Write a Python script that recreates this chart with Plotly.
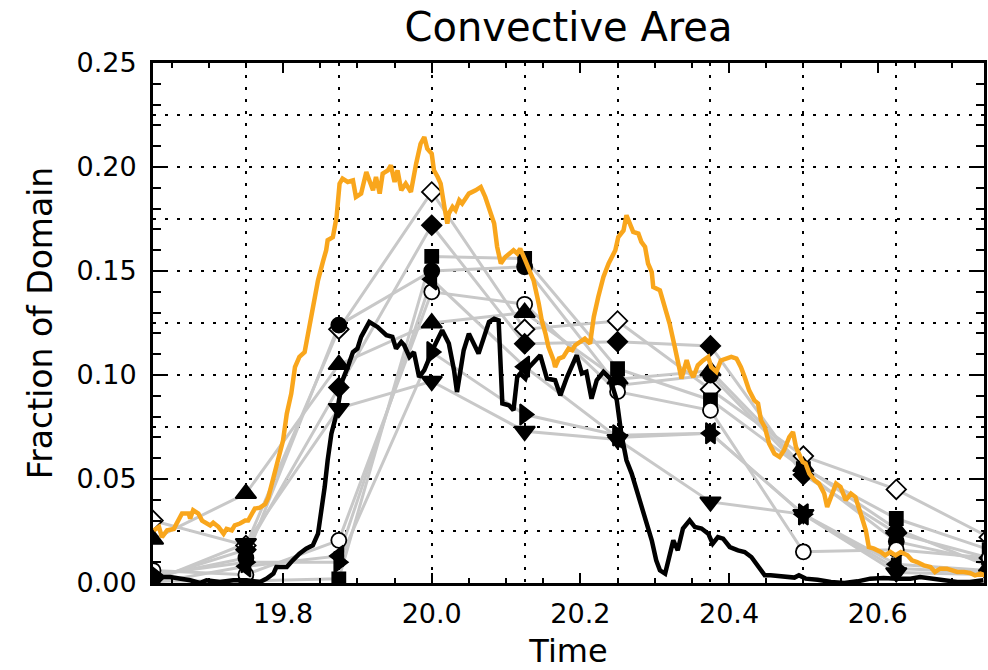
import plotly.graph_objects as go

# ---- ensemble members, sampled every 7.5 minutes ----
member_times = [19.625, 19.75, 19.875, 20.0, 20.125, 20.25, 20.375, 20.5, 20.625, 20.75]

member_open_diamond = [0.030, 0.018, 0.122, 0.188, 0.122, 0.126, 0.093, 0.061, 0.045, 0.022]
member_diamond      = [0.002, 0.016, 0.094, 0.172, 0.115, 0.116, 0.114, 0.052, 0.024, 0.012]
member_square       = [0.001, 0.001, 0.002, 0.157, 0.156, 0.103, 0.088, 0.055, 0.031, 0.016]
member_circle       = [0.003, 0.012, 0.124, 0.150, 0.152, 0.095, 0.100, 0.054, 0.020, 0.010]
member_open_circle  = [0.006, 0.004, 0.0205, 0.140, 0.134, 0.092, 0.083, 0.015, 0.016, 0.012]
member_tri_up       = [0.021, 0.043, 0.105, 0.125, 0.130, 0.098, 0.102, 0.056, 0.026, 0.008]
member_tri_down     = [0.001, 0.019, 0.084, 0.097, 0.073, 0.069, 0.039, 0.033, 0.005, 0.004]
member_tri_left     = [0.000, 0.008, 0.013, 0.146, 0.104, 0.070, 0.072, 0.033, 0.009, 0.006]
member_tri_right    = [0.004, 0.010, 0.010, 0.111, 0.081, 0.071, 0.072, 0.033, 0.007, 0.005]

# ---- high-resolution series (orange) ----
orange_t = [19.626, 19.633, 19.637, 19.644, 19.653, 19.657, 19.664, 19.673, 19.675, 19.679,
            19.686, 19.691, 19.695, 19.702, 19.706, 19.713, 19.720, 19.724, 19.731, 19.735,
            19.742, 19.749, 19.753, 19.758, 19.762, 19.769, 19.776, 19.780, 19.787, 19.796,
            19.800, 19.805, 19.811, 19.816, 19.822, 19.829, 19.836, 19.840, 19.847, 19.854,
            19.858, 19.860, 19.867, 19.872, 19.876, 19.880, 19.887, 19.894, 19.898, 19.905,
            19.912, 19.916, 19.921, 19.925, 19.930, 19.934, 19.941, 19.945, 19.950, 19.954,
            19.959, 19.965, 19.972, 19.979, 19.985, 19.990, 19.994, 20.000, 20.003, 20.008,
            20.012, 20.017, 20.021, 20.023, 20.028, 20.032, 20.037, 20.041, 20.050, 20.059,
            20.066, 20.072, 20.079, 20.084, 20.088, 20.093, 20.099, 20.104, 20.110, 20.115,
            20.119, 20.126, 20.131, 20.137, 20.144, 20.148, 20.153, 20.157, 20.164, 20.166,
            20.171, 20.177, 20.184, 20.189, 20.193, 20.200, 20.206, 20.213, 20.218, 20.224,
            20.231, 20.238, 20.247, 20.251, 20.258, 20.262, 20.267, 20.271, 20.278, 20.282,
            20.287, 20.291, 20.296, 20.298, 20.307, 20.314, 20.320, 20.327, 20.331, 20.336,
            20.343, 20.347, 20.352, 20.358, 20.365, 20.372, 20.376, 20.383, 20.389, 20.396,
            20.403, 20.410, 20.416, 20.421, 20.427, 20.434, 20.439, 20.443, 20.448, 20.454,
            20.461, 20.468, 20.474, 20.481, 20.486, 20.490, 20.494, 20.499, 20.503, 20.508,
            20.515, 20.521, 20.528, 20.532, 20.537, 20.544, 20.550, 20.557, 20.564, 20.570,
            20.577, 20.584, 20.588, 20.595, 20.604, 20.610, 20.617, 20.624, 20.631, 20.640,
            20.646, 20.653, 20.662, 20.671, 20.677, 20.684, 20.693, 20.700, 20.707, 20.716,
            20.724, 20.731, 20.738, 20.744]
orange_v = [0.0253, 0.0270, 0.0220, 0.0253, 0.0260, 0.0290, 0.0334, 0.0334, 0.0310, 0.0350,
            0.0334, 0.0300, 0.0290, 0.0277, 0.0290, 0.0270, 0.0237, 0.0260, 0.0253, 0.0277,
            0.0286, 0.0300, 0.0300, 0.0334, 0.0358, 0.0362, 0.0380, 0.0410, 0.0510, 0.0620,
            0.0686, 0.0814, 0.0910, 0.1038, 0.1087, 0.1110, 0.1247, 0.1340, 0.1455, 0.1550,
            0.1600, 0.1648, 0.1663, 0.1760, 0.1920, 0.1944, 0.1928, 0.1936, 0.1856, 0.1872,
            0.1976, 0.1936, 0.1888, 0.1952, 0.1872, 0.1968, 0.1984, 0.2008, 0.1928, 0.1984,
            0.1888, 0.1920, 0.1880, 0.2016, 0.2112, 0.2144, 0.2088, 0.2064, 0.1984, 0.1952,
            0.1920, 0.1808, 0.1728, 0.1776, 0.1808, 0.1792, 0.1840, 0.1824, 0.1872, 0.1888,
            0.1904, 0.1856, 0.1776, 0.1728, 0.1616, 0.1536, 0.1567, 0.1584, 0.1600, 0.1584,
            0.1608, 0.1550, 0.1503, 0.1455, 0.1343, 0.1263, 0.1199, 0.1135, 0.1070, 0.1038,
            0.1079, 0.1087, 0.1127, 0.1119, 0.1143, 0.1159, 0.1175, 0.1151, 0.1279, 0.1375,
            0.1471, 0.1536, 0.1600, 0.1663, 0.1695, 0.1768, 0.1720, 0.1688, 0.1680, 0.1640,
            0.1616, 0.1536, 0.1495, 0.1423, 0.1407, 0.1327, 0.1247, 0.1135, 0.1055, 0.0983,
            0.1071, 0.1023, 0.0990, 0.1047, 0.1070, 0.1087, 0.1038, 0.1015, 0.1070, 0.1079,
            0.1087, 0.1079, 0.1038, 0.0990, 0.0926, 0.0878, 0.0863, 0.0782, 0.0750, 0.0670,
            0.0622, 0.0606, 0.0638, 0.0702, 0.0726, 0.0654, 0.0622, 0.0582, 0.0574, 0.0526,
            0.0494, 0.0478, 0.0430, 0.0365, 0.0413, 0.0478, 0.0462, 0.0398, 0.0430, 0.0413,
            0.0334, 0.0253, 0.0173, 0.0165, 0.0149, 0.0133, 0.0149, 0.0133, 0.0149, 0.0133,
            0.0109, 0.0101, 0.0085, 0.0077, 0.0053, 0.0069, 0.0069, 0.0061, 0.0053, 0.0053,
            0.0048, 0.0037, 0.0045, 0.0037]

# ---- high-resolution series (black) ----
black_t = [19.625, 19.635, 19.648, 19.662, 19.675, 19.688, 19.697, 19.715, 19.733, 19.751,
           19.769, 19.778, 19.787, 19.791, 19.805, 19.813, 19.822, 19.831, 19.840, 19.847,
           19.851, 19.856, 19.860, 19.865, 19.872, 19.876, 19.880, 19.887, 19.894, 19.900,
           19.905, 19.916, 19.927, 19.939, 19.947, 19.952, 19.959, 19.963, 19.970, 19.976,
           19.983, 19.990, 19.997, 20.003, 20.014, 20.023, 20.030, 20.034, 20.043, 20.050,
           20.063, 20.070, 20.077, 20.084, 20.090, 20.095, 20.104, 20.110, 20.115, 20.119,
           20.126, 20.131, 20.139, 20.146, 20.155, 20.166, 20.173, 20.182, 20.195, 20.202,
           20.208, 20.215, 20.222, 20.231, 20.240, 20.249, 20.255, 20.262, 20.269, 20.276,
           20.282, 20.289, 20.296, 20.302, 20.307, 20.314, 20.320, 20.325, 20.331, 20.338,
           20.347, 20.354, 20.363, 20.372, 20.378, 20.385, 20.392, 20.401, 20.412, 20.421,
           20.430, 20.439, 20.448, 20.456, 20.474, 20.488, 20.494, 20.503, 20.519, 20.537,
           20.555, 20.573, 20.590, 20.608, 20.626, 20.644, 20.657, 20.671, 20.689, 20.707,
           20.724, 20.742]
black_v = [0.0037, 0.0029, 0.0029, 0.0021, 0.0013, 0.0000, 0.0013, 0.0005, 0.0013, 0.0013,
           0.0005, 0.0021, 0.0045, 0.0077, 0.0077, 0.0109, 0.0141, 0.0165, 0.0181, 0.0237,
           0.0334, 0.0462, 0.0590, 0.0718, 0.0814, 0.0894, 0.0975, 0.1038, 0.1110, 0.1127,
           0.1183, 0.1255, 0.1231, 0.1191, 0.1183, 0.1127, 0.1159, 0.1143, 0.1087, 0.1110,
           0.0990, 0.1023, 0.1087, 0.1135, 0.1215, 0.1151, 0.1023, 0.0918, 0.1119, 0.1199,
           0.1103, 0.1183, 0.1255, 0.1271, 0.1263, 0.0863, 0.0854, 0.0830, 0.0990, 0.1007,
           0.0983, 0.1038, 0.1070, 0.1095, 0.0983, 0.0975, 0.0902, 0.0990, 0.1095, 0.1007,
           0.1015, 0.0886, 0.0975, 0.1015, 0.0983, 0.0878, 0.0718, 0.0590, 0.0526, 0.0446,
           0.0365, 0.0301, 0.0205, 0.0109, 0.0061, 0.0045, 0.0141, 0.0205, 0.0157, 0.0262,
           0.0301, 0.0269, 0.0262, 0.0237, 0.0189, 0.0221, 0.0213, 0.0173, 0.0157, 0.0149,
           0.0125, 0.0077, 0.0037, 0.0037, 0.0032, 0.0026, 0.0037, 0.0021, 0.0016, 0.0005,
           0.0000, 0.0008, 0.0021, 0.0024, 0.0021, 0.0021, 0.0029, 0.0021, 0.0013, 0.0005,
           0.0005, 0.0013]

# ---- axis / grid settings ----
x_range = [19.625, 20.743]
y_range = [0.0, 0.25]
x_grid_start, x_grid_step = 19.75, 0.125
y_grid_step = 0.025

FONT = "DejaVu Sans"
GRAY = "#C8C8C8"
ORANGE = "#F9A61C"

members = [
    (member_open_diamond, "diamond", "white", 15),
    (member_diamond, "diamond", "black", 15),
    (member_square, "square", "black", 13),
    (member_circle, "circle", "black", 15),
    (member_open_circle, "circle", "white", 15),
    (member_tri_up, "triangle-up", "black", 18),
    (member_tri_down, "triangle-down", "black", 18),
    (member_tri_left, "triangle-left", "black", 18),
    (member_tri_right, "triangle-right", "black", 18),
]

fig = go.Figure()

# empty trace that binds the dotted-grid axes so they get drawn
fig.add_trace(go.Scatter(x=[], y=[], xaxis="x2", yaxis="y2", mode="lines",
                         hoverinfo="skip", showlegend=False))

# connecting lines of each member, drawn first so the symbols sit on top
for vals, _, _, _ in members:
    fig.add_trace(go.Scatter(x=member_times, y=vals, mode="lines",
                             line=dict(color=GRAY, width=3),
                             hoverinfo="skip", showlegend=False))

for vals, sym, fill, size in members:
    fig.add_trace(go.Scatter(x=member_times, y=vals, mode="markers",
                             marker=dict(symbol=sym, size=size, color=fill,
                                         line=dict(color="black", width=1.8)),
                             showlegend=False))

fig.add_trace(go.Scatter(x=orange_t, y=orange_v, mode="lines",
                         line=dict(color=ORANGE, width=4.5), showlegend=False))
fig.add_trace(go.Scatter(x=black_t, y=black_v, mode="lines",
                         line=dict(color="black", width=4.5), showlegend=False))

tick_font = dict(family=FONT, size=27, color="black")

fig.update_layout(
    width=988, height=670,
    margin=dict(l=153, r=1, t=63, b=87),
    paper_bgcolor="white", plot_bgcolor="white",
    title=dict(text="Convective Area", x=0.5, xref="paper", xanchor="center",
               y=1 - 26.5 / 670, yref="container", yanchor="middle",
               font=dict(family=FONT, size=40, color="black")),
    xaxis=dict(range=x_range, tick0=19.8, dtick=0.2, tickformat=".1f",
               ticks="inside", ticklen=10, tickwidth=2, tickcolor="black",
               minor=dict(dtick=0.05, ticks="inside", ticklen=5, tickwidth=2, tickcolor="black"),
               showline=True, linewidth=3, linecolor="black", mirror="ticks",
               showgrid=False, zeroline=False, tickfont=tick_font,
               ticklabelstandoff=5,
               title=dict(text="Time", font=dict(family=FONT, size=32, color="black"),
                          standoff=14)),
    yaxis=dict(range=y_range, tick0=0, dtick=0.05, tickformat=".2f",
               ticks="inside", ticklen=15, tickwidth=2, tickcolor="black",
               minor=dict(dtick=0.01, ticks="inside", ticklen=8, tickwidth=2, tickcolor="black"),
               showline=True, linewidth=3, linecolor="black", mirror="ticks",
               showgrid=False, zeroline=False, tickfont=tick_font,
               ticklabelstandoff=8,
               title=dict(text="Fraction of Domain", font=dict(family=FONT, size=33, color="black"),
                          standoff=14)),
    # dotted guide grid on its own spacing
    xaxis2=dict(overlaying="x", side="top", range=x_range, tick0=x_grid_start, dtick=x_grid_step,
                showgrid=True, gridcolor="black", gridwidth=2, griddash="3px,9px",
                showticklabels=False, ticks="", showline=False, zeroline=False),
    yaxis2=dict(overlaying="y", side="right", range=y_range, tick0=0, dtick=y_grid_step,
                showgrid=True, gridcolor="black", gridwidth=2, griddash="3px,9px",
                showticklabels=False, ticks="", showline=False, zeroline=False),
)

fig.write_html("out.html")
